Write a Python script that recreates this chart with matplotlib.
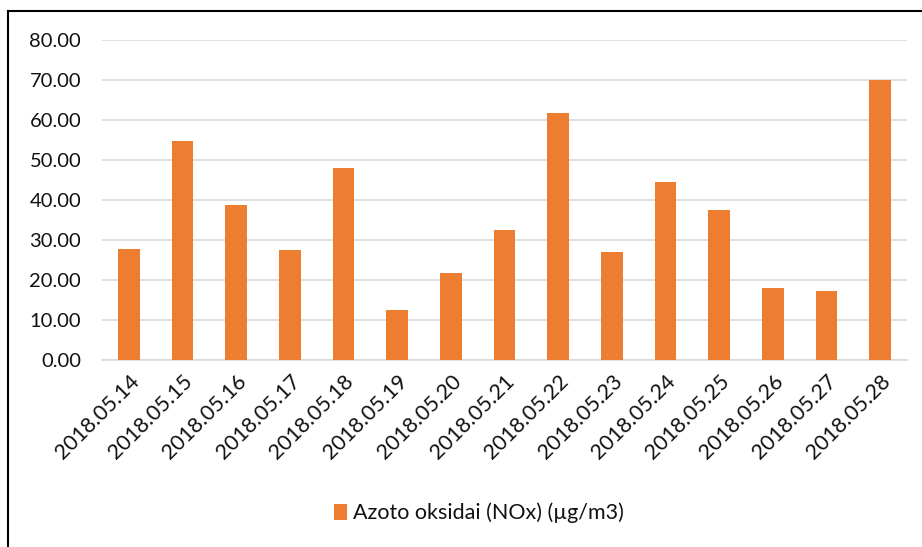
import matplotlib
matplotlib.use("Agg")
import numpy as np
from matplotlib import pyplot as plt
from matplotlib.lines import Line2D

# data
dates = ["2018.05.14", "2018.05.15", "2018.05.16", "2018.05.17", "2018.05.18",
         "2018.05.19", "2018.05.20", "2018.05.21", "2018.05.22", "2018.05.23",
         "2018.05.24", "2018.05.25", "2018.05.26", "2018.05.27", "2018.05.28"]
nox = [27.7, 54.8, 38.7, 27.6, 47.9, 12.5, 21.7, 32.6, 61.7, 26.9,
       44.6, 37.6, 18.1, 17.2, 70.0]
series_name = "Azoto oksidai (NOx) (µg/m3)"
y_ticks = [0, 10, 20, 30, 40, 50, 60, 70, 80]

plt.rcParams['font.family'] = ['Lato', 'DejaVu Sans']

fig = plt.figure(figsize=(9.22, 5.47), dpi=100)
ax = fig.add_axes([102 / 922, 1 - 360 / 547, 805 / 922, 320 / 547])

x = np.arange(len(dates))
ax.bar(x, nox, width=0.4, color="#ED7D31", label=series_name, zorder=3)

ax.set_xlim(-0.5, len(dates) - 0.5)
ax.set_ylim(0, 80)
ax.set_yticks(y_ticks)
ax.set_yticklabels(["%.2f" % v for v in y_ticks])
ax.set_xticks(x)
ax.set_xticklabels(dates, rotation=45, ha="right", rotation_mode="anchor")

ax.grid(axis="y", color="#d9d9d9", linewidth=1.2, zorder=0)
for side in ["top", "right", "left"]:
    ax.spines[side].set_visible(False)
ax.spines["bottom"].set_color("#d9d9d9")
ax.spines["bottom"].set_linewidth(1.2)
ax.tick_params(axis="both", length=0, colors="#111111")
ax.tick_params(axis="y", pad=15, labelsize=14.5)
ax.tick_params(axis="x", pad=8, labelsize=15.5)

# legend below the chart
leg = fig.legend(loc="center", bbox_to_anchor=(479 / 922, 1 - 513 / 547),
                 frameon=False, fontsize=15.5, handlelength=0.6,
                 handleheight=0.75, handletextpad=0.3)
for t in leg.get_texts():
    t.set_color("#111111")

# outer chart border (right and bottom edges are cut off in the reference)
fig.add_artist(Line2D([8 / 922, 8 / 922], [0, 1 - 11 / 547], color="black",
                      linewidth=1.5, transform=fig.transFigure))
fig.add_artist(Line2D([8 / 922, 1], [1 - 11 / 547, 1 - 11 / 547], color="black",
                      linewidth=1.5, transform=fig.transFigure))

plt.savefig("out.png", dpi=100)
